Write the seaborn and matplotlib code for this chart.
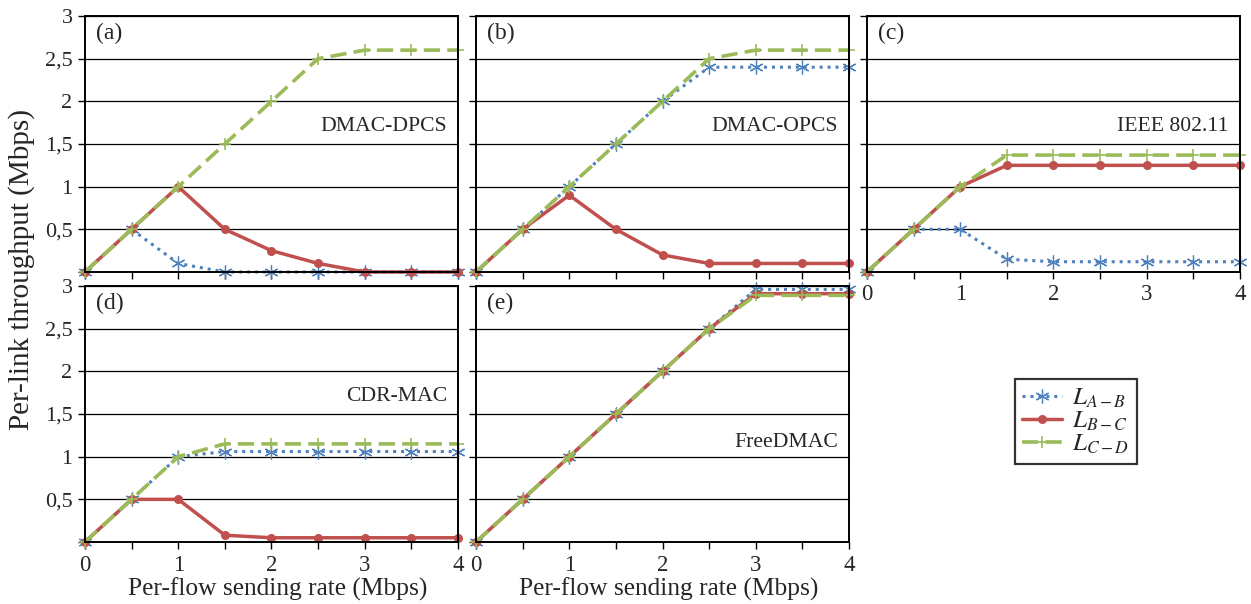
import numpy as np
import pandas as pd
import matplotlib
matplotlib.use('Agg')
import matplotlib.pyplot as plt
import seaborn as sns

# sending rate per flow (Mbps)
rate = [0, 0.5, 1, 1.5, 2, 2.5, 3, 3.5, 4]

# throughput per link (Mbps)
dpcs_ab = [0, 0.5, 0.1, 0, 0, 0, 0, 0, 0]
dpcs_bc = [0, 0.5, 1.0, 0.5, 0.25, 0.1, 0, 0, 0]
dpcs_cd = [0, 0.5, 1.0, 1.5, 2.0, 2.5, 2.6, 2.6, 2.6]

opcs_ab = [0, 0.5, 1.0, 1.5, 2.0, 2.4, 2.4, 2.4, 2.4]
opcs_bc = [0, 0.5, 0.9, 0.5, 0.2, 0.1, 0.1, 0.1, 0.1]
opcs_cd = [0, 0.5, 1.0, 1.5, 2.0, 2.5, 2.6, 2.6, 2.6]

ieee_ab = [0, 0.5, 0.5, 0.15, 0.12, 0.12, 0.12, 0.12, 0.12]
ieee_bc = [0, 0.5, 1.0, 1.25, 1.25, 1.25, 1.25, 1.25, 1.25]
ieee_cd = [0, 0.5, 1.0, 1.37, 1.37, 1.37, 1.37, 1.37, 1.37]

cdr_ab = [0, 0.5, 1.0, 1.06, 1.06, 1.06, 1.06, 1.06, 1.06]
cdr_bc = [0, 0.5, 0.5, 0.08, 0.05, 0.05, 0.05, 0.05, 0.05]
cdr_cd = [0, 0.5, 1.0, 1.15, 1.15, 1.15, 1.15, 1.15, 1.15]

free_ab = [0, 0.5, 1.0, 1.5, 2.0, 2.5, 2.96, 2.96, 2.96]
free_bc = [0, 0.5, 1.0, 1.5, 2.0, 2.5, 2.91, 2.91, 2.91]
free_cd = [0, 0.5, 1.0, 1.5, 2.0, 2.5, 2.89, 2.89, 2.89]

panel_tags = ['(a)', '(b)', '(c)', '(d)', '(e)']
protocols = ['DMAC-DPCS', 'DMAC-OPCS', 'IEEE 802.11', 'CDR-MAC', 'FreeDMAC']
links = [r'$L_{A-B}$', r'$L_{B-C}$', r'$L_{C-D}$']

panels = [
    (dpcs_ab, dpcs_bc, dpcs_cd),
    (opcs_ab, opcs_bc, opcs_cd),
    (ieee_ab, ieee_bc, ieee_cd),
    (cdr_ab, cdr_bc, cdr_cd),
    (free_ab, free_bc, free_cd),
]

sns.set_style("white")
plt.rcParams['font.family'] = ['Liberation Serif', 'DejaVu Serif']
plt.rcParams['mathtext.fontset'] = 'stix'

# line styles per link: blue dotted asterisk, red solid dot, green dashed plus
styles = [
    dict(color='#4F81BD', linestyle=(0, (1, 1.6)), linewidth=2.2, marker=(6, 2, 0),
         markersize=10, markeredgewidth=0.9, markeredgecolor='#4F81BD'),
    dict(color='#C0504D', linestyle='-', linewidth=2.5, marker='o',
         markersize=6.5, markeredgewidth=0, markerfacecolor='#C0504D'),
    dict(color='#9BBB59', linestyle=(0, (4.5, 2)), linewidth=2.6, marker='+',
         markersize=8, markeredgewidth=1.2, markeredgecolor='#9BBB59'),
]

fig = plt.figure(figsize=(12.51, 6.04), dpi=100)

# manual axes boxes: [left, bottom, width, height]
W = 0.2982
boxes = [
    [0.0679, 0.5497, W, 0.4238],
    [0.3805, 0.5497, W, 0.4238],
    [0.6930, 0.5497, W, 0.4238],
    [0.0679, 0.1026, W, 0.4239],
    [0.3805, 0.1026, W, 0.4239],
]
text_y = [0.567, 0.567, 0.567, 0.567, 0.387]

axes = []
for i, box in enumerate(boxes):
    ax = fig.add_axes(box)
    axes.append(ax)
    for series, link, st in zip(panels[i], links, styles):
        sns.lineplot(x=rate, y=series, ax=ax, label=link, legend=False,
                     clip_on=False, **st)

    ax.set_xlim(0, 4)
    ax.set_ylim(0, 3)
    ax.set_xticks(np.arange(0, 4.01, 0.5))
    ax.set_yticks(np.arange(0, 3.01, 0.5))
    ax.yaxis.grid(True, color='black', linewidth=0.9)
    ax.xaxis.grid(False)
    for sp in ax.spines.values():
        sp.set_color('black')
        sp.set_linewidth(1.4)
    ax.tick_params(axis='both', which='both', bottom=True, left=True,
                   direction='out', length=5, width=1.0, color='black')
    ax.tick_params(axis='x', labelsize=16.5, pad=4)
    ax.tick_params(axis='y', labelsize=16, pad=4)

    # x tick labels only on bottom panels of each column (c, d, e)
    if i in (2, 3, 4):
        ax.set_xticklabels(['0', '', '1', '', '2', '', '3', '', '4'])
    else:
        ax.set_xticklabels([])
    if i in (0, 3):
        ax.set_yticklabels(['', '0,5', '1', '1,5', '2', '2,5', '3'])
    else:
        ax.set_yticklabels([])
    if i in (3, 4):
        ax.set_xlabel('Per-flow sending rate (Mbps)', fontsize=18.3)
        ax.xaxis.set_label_coords(0.516, -0.14)
    else:
        ax.set_xlabel('')
    ax.set_ylabel('')

    ax.text(0.03, 0.93, panel_tags[i], transform=ax.transAxes, fontsize=17,
            ha='left', va='center')
    ax.text(0.97, text_y[i], protocols[i], transform=ax.transAxes, fontsize=15.6,
            ha='right', va='center')

fig.text(0.017, 0.553, 'Per-link throughput (Mbps)', rotation=90,
         ha='center', va='center', fontsize=21)

handles, labels = axes[0].get_legend_handles_labels()
leg = fig.legend(handles, labels, loc='upper left', bbox_to_anchor=(0.8113, 0.3725),
                 borderaxespad=0, fontsize=18, frameon=True, fancybox=False,
                 handlelength=1.6, labelspacing=0.0, borderpad=0.3,
                 handletextpad=0.4)
leg.get_frame().set_edgecolor('black')
leg.get_frame().set_linewidth(1.6)

fig.savefig('out.png', dpi=100)
